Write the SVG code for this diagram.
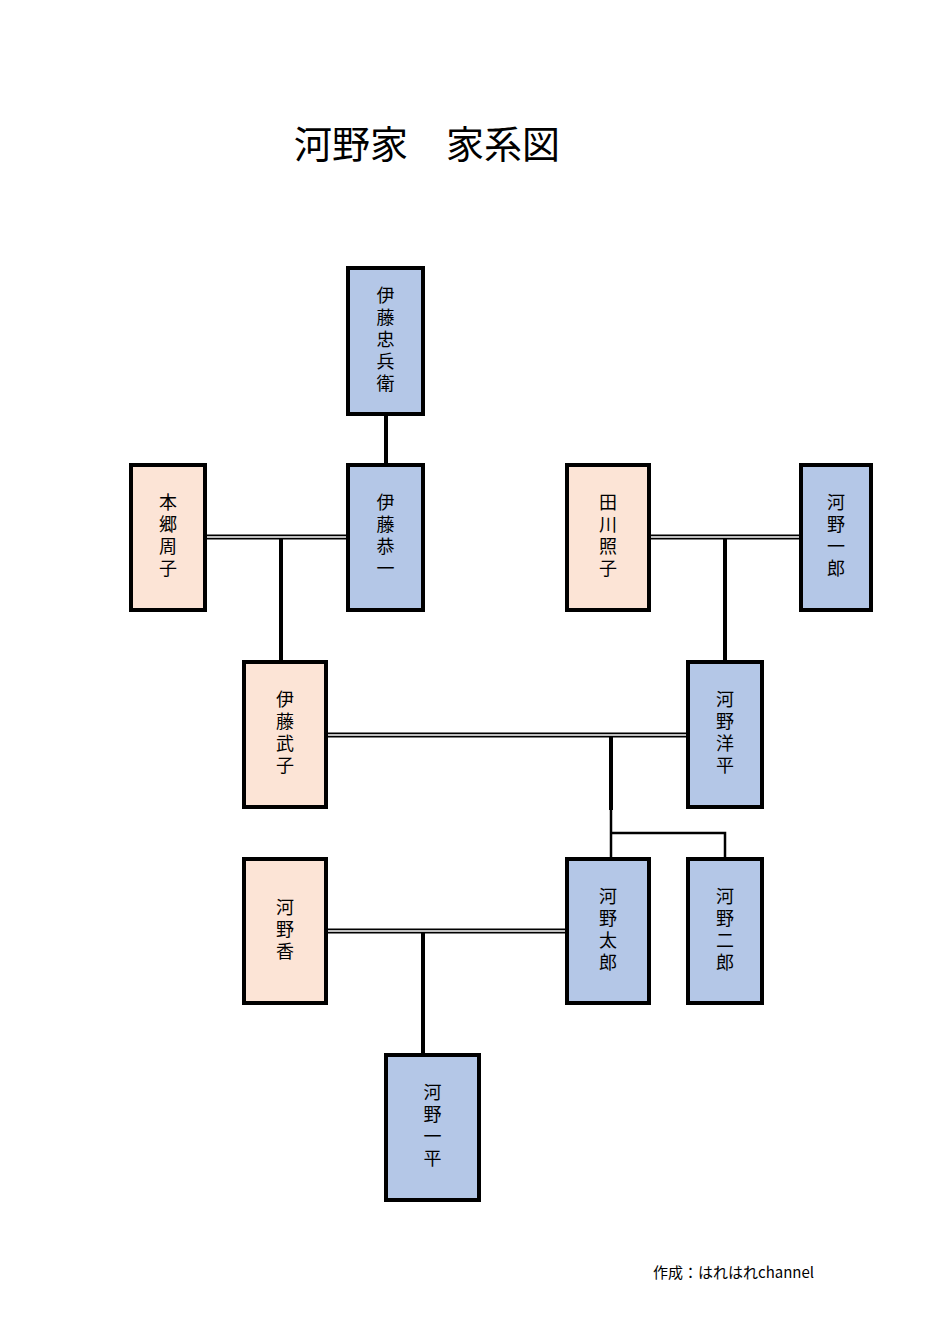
<svg xmlns="http://www.w3.org/2000/svg" width="951" height="1331" viewBox="0 0 951 1331">
<style>
.m{fill:#b4c7e7;stroke:#000;stroke-width:4}
.f{fill:#fce4d6;stroke:#000;stroke-width:4}
.t{font-family:"Noto Sans CJK JP",sans-serif;font-size:18px;writing-mode:vertical-rl;text-anchor:middle;letter-spacing:4px;fill:#000}
.d1{stroke:#000;stroke-width:5;fill:none}
.d2{stroke:#fff;stroke-width:1.6;fill:none}
.v{stroke:#000;stroke-width:4;fill:none}
</style>
<rect width="951" height="1331" fill="#fff"/>
<text x="427" y="158" font-family="Noto Sans CJK JP,sans-serif" font-size="38" text-anchor="middle">河野家　家系図</text>
<g id="connectors">
<path class="v" d="M386 416V463M281 537V660M725 537V660M423 931V1053M611 735V810"/>
<path stroke="#000" stroke-width="2.5" fill="none" d="M611 810V857M611 833H725V857"/>
<path class="d1" d="M207 537H346M651 537H799M328 735H686M328 931H565"/>
<path class="d2" d="M207 537H346M651 537H799M328 735H686M328 931H565"/>
</g>
<g id="n1"><rect class="m" x="348" y="268" width="75" height="146"/><text class="t" x="385.5" y="341">伊藤忠兵衛</text></g>
<g id="n2"><rect class="f" x="131" y="465" width="74" height="145"/><text class="t" x="168" y="537">本郷周子</text></g>
<g id="n3"><rect class="m" x="348" y="465" width="75" height="145"/><text class="t" x="385.5" y="537">伊藤恭一</text></g>
<g id="n4"><rect class="f" x="567" y="465" width="82" height="145"/><text class="t" x="608" y="537">田川照子</text></g>
<g id="n5"><rect class="m" x="801" y="465" width="70" height="145"/><text class="t" x="836" y="537">河野一郎</text></g>
<g id="n6"><rect class="f" x="244" y="662" width="82" height="145"/><text class="t" x="285" y="734">伊藤武子</text></g>
<g id="n7"><rect class="m" x="688" y="662" width="74" height="145"/><text class="t" x="725" y="734">河野洋平</text></g>
<g id="n8"><rect class="f" x="244" y="859" width="82" height="144"/><text class="t" x="285" y="931">河野香</text></g>
<g id="n9"><rect class="m" x="567" y="859" width="82" height="144"/><text class="t" x="608" y="931">河野太郎</text></g>
<g id="n10"><rect class="m" x="688" y="859" width="74" height="144"/><text class="t" x="725" y="931">河野二郎</text></g>
<g id="n11"><rect class="m" x="386" y="1055" width="93" height="145"/><text class="t" x="432.5" y="1127">河野一平</text></g>
<text x="653" y="1278" font-family="Noto Sans CJK JP,sans-serif" font-size="15">作成：はれはれchannel</text>
</svg>
